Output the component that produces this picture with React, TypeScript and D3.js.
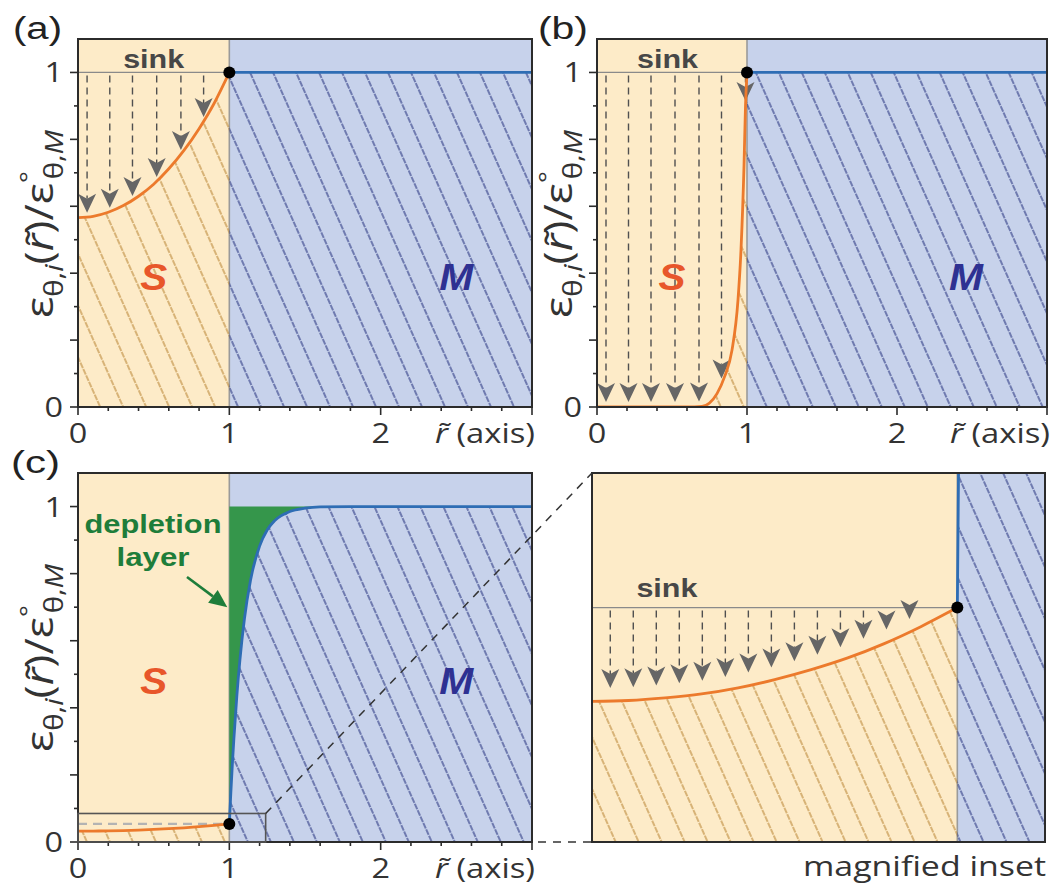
import React from "react";
import * as d3 from "d3";

// ---------------- data ----------------
const xTickLabelValues = [0, 1, 2];
const yTickLabelValues = [0, 1];
const mainXDomain: [number, number] = [0, 3];
const mainYDomain: [number, number] = [0, 1.1];
const insetXDomain: [number, number] = [0, 1.24];
const insetYDomain: [number, number] = [0, 0.085];

// panel (a)
const aSinkR = [0, 0.1, 0.2, 0.3, 0.4, 0.5, 0.6, 0.7, 0.8, 0.9, 1.0];
const aSinkEps = [0.566, 0.57, 0.582, 0.602, 0.63, 0.666, 0.712, 0.767, 0.832, 0.908, 1.0];
const aMatrixR = [1, 3];
const aMatrixEps = [1, 1];
const aArrowR = [0.06, 0.21, 0.36, 0.52, 0.68, 0.83];

// panel (b)
const bSinkR = [0, 0.6, 0.7, 0.75, 0.8, 0.85, 0.9, 0.94, 0.96, 0.98, 0.99, 1.0];
const bSinkEps = [0, 0, 0.002, 0.012, 0.04, 0.09, 0.17, 0.32, 0.47, 0.72, 0.9, 1.0];
const bMatrixR = [1, 3];
const bMatrixEps = [1, 1];
const bArrowR = [0.06, 0.21, 0.36, 0.52, 0.68, 0.83, 0.99];

// panel (c) + magnified inset
const cSinkR = [0, 0.1, 0.2, 0.3, 0.4, 0.5, 0.6, 0.7, 0.8, 0.9, 1.0];
const cSinkEps = [0.0324, 0.0326, 0.0332, 0.0341, 0.0355, 0.0374, 0.0397, 0.0424, 0.0457, 0.0496, 0.054];
const cMatrixR = [1, 1.01, 1.02, 1.03, 1.05, 1.07, 1.1, 1.14, 1.2, 1.25, 1.3, 1.4, 1.5, 1.6, 1.8, 2.0, 3.0];
const cMatrixEps = [0.054, 0.148, 0.232, 0.307, 0.438, 0.543, 0.666, 0.78, 0.882, 0.93, 0.958, 0.985, 0.995, 0.999, 1, 1, 1];
const insetArrowR = [0.05, 0.113, 0.176, 0.239, 0.302, 0.365, 0.428, 0.491, 0.554, 0.617, 0.68, 0.743, 0.806, 0.869];

// ---------------- style ----------------
const FONT = "'Open Sans', 'DejaVu Sans', sans-serif";
const ARIAL = "'Liberation Sans', Arial, sans-serif";
const COL = {
  beige: "#FDEBC8",
  blueBg: "#C7D2EB",
  green: "#35964B",
  greenText: "#1E7D3A",
  orange: "#EC7A2C",
  blue: "#2E6DB4",
  hatchO: "#B98535",
  hatchB: "#27337F",
  gray: "#9A9A9A",
  arrow: "#666666",
  frame: "#2b2b2b",
  text: "#333333",
};

type Box = { l: number; r: number; t: number; b: number };

interface PanelProps {
  id: string;
  box: Box;
  xd: [number, number];
  yd: [number, number];
  sinkR: number[];
  sinkEps: number[];
  matR: number[];
  matEps: number[];
  sinkLevel: number;
  sinkDashed?: boolean;
  arrowR: number[];
  arrowGap: number;
  green?: boolean;
  axes: boolean;
}

function Arrow({ x, y1, tip }: { x: number; y1: number; tip: number }) {
  const h = 19;
  const w = 9;
  const top = tip - h;
  return (
    <g>
      {top - y1 > 2 && (
        <line x1={x} x2={x} y1={y1} y2={top + 5} stroke="#505050" strokeWidth={1.4} strokeDasharray="7 5" />
      )}
      <path d={`M${x},${tip} L${x - w},${top} L${x},${top + 5} L${x + w},${top} Z`} fill={COL.arrow} />
    </g>
  );
}

function Panel(p: PanelProps) {
  const x = d3.scaleLinear().domain(p.xd).range([p.box.l, p.box.r]);
  const y = d3.scaleLinear().domain(p.yd).range([p.box.b, p.box.t]);
  const sinkPts: [number, number][] = p.sinkR.map((r, i) => [r, p.sinkEps[i]]);
  const matPts: [number, number][] = p.matR.map((r, i) => [r, p.matEps[i]]);
  const line = d3
    .line<[number, number]>()
    .x((d) => x(d[0]))
    .y((d) => y(d[1]))
    .curve(d3.curveMonotoneX);
  const below = d3
    .area<[number, number]>()
    .x((d) => x(d[0]))
    .y0(y(0))
    .y1((d) => y(d[1]))
    .curve(d3.curveMonotoneX);
  const greenArea = d3
    .area<[number, number]>()
    .x((d) => x(d[0]))
    .y0(y(1))
    .y1((d) => y(d[1]))
    .curve(d3.curveMonotoneX);
  const interp = d3.scaleLinear().domain(p.sinkR).range(p.sinkEps);
  const clip = `clip-${p.id}`;
  const xTicks = p.axes ? x.ticks(12).filter((v) => v <= p.xd[1] + 1e-9) : [];
  const yTicks = p.axes ? y.ticks(11).filter((v) => v <= 1.0001) : [];
  const xMajor = (v: number) => Math.abs(v * 2 - Math.round(v * 2)) < 1e-6;
  const yMajor = (v: number) => Math.abs(v * 5 - Math.round(v * 5)) < 1e-6;

  return (
    <g>
      <defs>
        <clipPath id={clip}>
          <rect x={p.box.l} y={p.box.t} width={p.box.r - p.box.l} height={p.box.b - p.box.t} />
        </clipPath>
      </defs>
      <g clipPath={`url(#${clip})`}>
        <rect x={x(0)} y={p.box.t} width={x(1) - x(0)} height={p.box.b - p.box.t} fill={COL.beige} />
        <rect x={x(1)} y={p.box.t} width={p.box.r - x(1)} height={p.box.b - p.box.t} fill={COL.blueBg} />
        <line x1={x(1)} x2={x(1)} y1={p.box.t} y2={p.box.b} stroke={COL.gray} strokeWidth={1.6} />
        {p.green && <path d={greenArea(matPts) || ""} fill={COL.green} />}
        <path d={below(sinkPts) || ""} fill="url(#hatchO)" />
        <path d={below(matPts) || ""} fill="url(#hatchB)" />
        <line
          x1={x(0)}
          x2={x(1)}
          y1={y(p.sinkLevel)}
          y2={y(p.sinkLevel)}
          stroke={p.sinkDashed ? "#B3B3B3" : "#8a8a8a"}
          strokeWidth={p.sinkDashed ? 2.2 : 1.3}
          strokeDasharray={p.sinkDashed ? "9 6" : undefined}
        />
        {p.arrowR.map((r, i) => (
          <Arrow key={i} x={x(r)} y1={y(p.sinkLevel) + 3} tip={y(interp(r)) - p.arrowGap} />
        ))}
        <path d={line(sinkPts) || ""} fill="none" stroke={COL.orange} strokeWidth={2.8} />
        <path d={line(matPts) || ""} fill="none" stroke={COL.blue} strokeWidth={2.8} />
        <circle cx={x(1)} cy={y(p.sinkLevel)} r={6} fill="#000" />
      </g>
      <rect
        x={p.box.l}
        y={p.box.t}
        width={p.box.r - p.box.l}
        height={p.box.b - p.box.t}
        fill="none"
        stroke={COL.frame}
        strokeWidth={2}
      />
      {xTicks.map((v, i) => (
        <line
          key={"xt" + i}
          x1={x(v)}
          x2={x(v)}
          y1={p.box.b}
          y2={p.box.b + (xMajor(v) ? 8 : 4)}
          stroke={COL.frame}
          strokeWidth={1.6}
        />
      ))}
      {yTicks.map((v, i) => (
        <line
          key={"yt" + i}
          x1={p.box.l}
          x2={p.box.l - (yMajor(v) ? 8 : 4)}
          y1={y(v)}
          y2={y(v)}
          stroke={COL.frame}
          strokeWidth={1.6}
        />
      ))}
      {p.axes &&
        xTickLabelValues.map((v) => (
          <text
            key={"xl" + v}
            x={x(v)}
            y={p.box.b + 36}
            textAnchor="middle"
            fontFamily={FONT}
            fontSize={27}
            fill={COL.text}
            transform={`translate(${x(v)},0) scale(1.2,1) translate(${-x(v)},0)`}
          >
            {v}
          </text>
        ))}
      {p.axes &&
        yTickLabelValues.map((v) => (
          <text
            key={"yl" + v}
            x={p.box.l - 15}
            y={y(v) + 10}
            textAnchor="end"
            fontFamily={FONT}
            fontSize={27}
            fill={COL.text}
            transform={`translate(${p.box.l - 15},0) scale(1.2,1) translate(${-(p.box.l - 15)},0)`}
          >
            {v}
          </text>
        ))}
      {p.axes && (
        <text
          x={p.box.r + 3}
          y={p.box.b + 36}
          textAnchor="end"
          fontFamily={FONT}
          fontSize={28}
          fill={COL.text}
          textLength={100}
          lengthAdjust="spacingAndGlyphs"
        >
          <tspan fontStyle="italic">r{"\u0303"}</tspan> (axis)
        </text>
      )}
    </g>
  );
}

function YLabel({ cx, cy }: { cx: number; cy: number }) {
  return (
    <text
      transform={`translate(${cx},${cy}) scale(1.2,1) rotate(-90)`}
      textAnchor="middle"
      fontFamily={FONT}
      fontSize={32}
      fill={COL.text}
      textLength={188}
      lengthAdjust="spacingAndGlyphs"
    >
      ε
      <tspan fontSize={21} dy={8}>
        θ,<tspan fontStyle="italic">i</tspan>
      </tspan>
      <tspan dy={-8}>(</tspan>
      <tspan fontStyle="italic">r{"\u0303"}</tspan>
      <tspan>)/ε</tspan>
      <tspan fontSize={20} dy={-13}>
        °
      </tspan>
      <tspan fontSize={21} dx={-6} dy={21}>
        θ,<tspan fontStyle="italic">M</tspan>
      </tspan>
    </text>
  );
}

function Label({
  x,
  y,
  w,
  size,
  children,
  fill = COL.text,
  weight = 400,
  italic = false,
  family = FONT,
  anchor = "middle",
}: any) {
  return (
    <text
      x={x}
      y={y}
      textAnchor={anchor}
      fontFamily={family}
      fontSize={size}
      fontWeight={weight}
      fontStyle={italic ? "italic" : "normal"}
      fill={fill}
      textLength={w}
      lengthAdjust={w ? "spacingAndGlyphs" : undefined}
    >
      {children}
    </text>
  );
}

export default function App() {
  const boxA: Box = { l: 78, r: 532, t: 39, b: 407 };
  const boxB: Box = { l: 597, r: 1047, t: 39, b: 407 };
  const boxC: Box = { l: 78, r: 532, t: 473, b: 842 };
  const boxI: Box = { l: 592, r: 1045, t: 473, b: 842 };

  const xa = d3.scaleLinear().domain(mainXDomain).range([boxA.l, boxA.r]);
  const ya = d3.scaleLinear().domain(mainYDomain).range([boxA.b, boxA.t]);
  const xb = d3.scaleLinear().domain(mainXDomain).range([boxB.l, boxB.r]);
  const xc = d3.scaleLinear().domain(mainXDomain).range([boxC.l, boxC.r]);
  const yc = d3.scaleLinear().domain(mainYDomain).range([boxC.b, boxC.t]);
  const xi = d3.scaleLinear().domain(insetXDomain).range([boxI.l, boxI.r]);
  const dotLevel = cSinkEps[cSinkEps.length - 1];

  // green arrow geometry
  const gx2 = xc(1) - 2;
  const gy2 = yc(0.7);
  const gx1 = 187;
  const gy1 = 577;
  const ang = Math.atan2(gy2 - gy1, gx2 - gx1);
  const hl = 18;
  const hw = 8;
  const bx = gx2 - hl * Math.cos(ang);
  const by = gy2 - hl * Math.sin(ang);
  const px = -Math.sin(ang) * hw;
  const py = Math.cos(ang) * hw;

  return (
    <svg
      width={1050}
      height={886}
      style={{ position: "absolute", left: 0, top: 0, background: "#fff" }}
    >
      <defs>
        <pattern
          id="hatchO"
          patternUnits="userSpaceOnUse"
          width={21}
          height={42}
          patternTransform="rotate(-24)"
        >
          <line x1={10} x2={10} y1={0} y2={42} stroke={COL.hatchO} strokeWidth={1.1} strokeDasharray="6 1" />
        </pattern>
        <pattern
          id="hatchB"
          patternUnits="userSpaceOnUse"
          width={21}
          height={42}
          patternTransform="rotate(-24)"
        >
          <line x1={10} x2={10} y1={0} y2={42} stroke={COL.hatchB} strokeWidth={1.1} strokeDasharray="6 1" />
        </pattern>
      </defs>

      <Panel
        id="a"
        box={boxA}
        xd={mainXDomain}
        yd={mainYDomain}
        sinkR={aSinkR}
        sinkEps={aSinkEps}
        matR={aMatrixR}
        matEps={aMatrixEps}
        sinkLevel={1}
        arrowR={aArrowR}
        arrowGap={4}
        axes
      />
      <Panel
        id="b"
        box={boxB}
        xd={mainXDomain}
        yd={mainYDomain}
        sinkR={bSinkR}
        sinkEps={bSinkEps}
        matR={bMatrixR}
        matEps={bMatrixEps}
        sinkLevel={1}
        arrowR={bArrowR}
        arrowGap={5}
        axes
      />
      <Panel
        id="c"
        box={boxC}
        xd={mainXDomain}
        yd={mainYDomain}
        sinkR={cSinkR}
        sinkEps={cSinkEps}
        matR={cMatrixR}
        matEps={cMatrixEps}
        sinkLevel={dotLevel}
        sinkDashed
        arrowR={[]}
        arrowGap={0}
        green
        axes
      />
      <Panel
        id="i"
        box={boxI}
        xd={insetXDomain}
        yd={insetYDomain}
        sinkR={cSinkR}
        sinkEps={cSinkEps}
        matR={cMatrixR}
        matEps={cMatrixEps}
        sinkLevel={dotLevel}
        arrowR={insetArrowR}
        arrowGap={13}
        axes={false}
      />

      {/* zoom rectangle + connectors */}
      <rect
        x={xc(0)}
        y={yc(insetYDomain[1])}
        width={xc(insetXDomain[1]) - xc(0)}
        height={yc(0) - yc(insetYDomain[1])}
        fill="none"
        stroke="#555"
        strokeWidth={1.6}
      />
      <line
        x1={xc(insetXDomain[1])}
        y1={yc(insetYDomain[1])}
        x2={boxI.l}
        y2={boxI.t}
        stroke="#333"
        strokeWidth={1.5}
        strokeDasharray="8 7"
      />
      <line x1={boxC.r + 6} y1={boxC.b} x2={boxI.l} y2={boxI.b} stroke="#333" strokeWidth={1.5} strokeDasharray="8 7" />

      {/* green arrow + depletion label */}
      <line x1={gx1} y1={gy1} x2={bx} y2={by} stroke={COL.greenText} strokeWidth={2.6} />
      <path d={`M${gx2},${gy2} L${bx + px},${by + py} L${bx - px},${by - py} Z`} fill={COL.greenText} />
      <Label x={153} y={533} w={137} size={26} weight={700} fill={COL.greenText} family={ARIAL}>
        depletion
      </Label>
      <Label x={153} y={566} w={73} size={26} weight={700} fill={COL.greenText} family={ARIAL}>
        layer
      </Label>

      {/* sink labels */}
      <Label x={xa(0.5)} y={68} w={61} size={26} weight={700} fill="#474747" family={ARIAL}>
        sink
      </Label>
      <Label x={xb(0.47)} y={68} w={61} size={26} weight={700} fill="#474747" family={ARIAL}>
        sink
      </Label>
      <Label x={xi(0.205)} y={597} w={61} size={26} weight={700} fill="#474747" family={ARIAL}>
        sink
      </Label>

      {/* S / M labels */}
      <Label x={xa(0.5)} y={ya(0.39) + 13} w={27} size={37} weight={700} italic fill="#E8562A" family={ARIAL}>
        S
      </Label>
      <Label x={xa(2.5)} y={ya(0.39) + 13} w={34} size={37} weight={700} italic fill="#2E3192" family={ARIAL}>
        M
      </Label>
      <Label x={xb(0.5)} y={ya(0.39) + 13} w={27} size={37} weight={700} italic fill="#E8562A" family={ARIAL}>
        S
      </Label>
      <Label x={xb(2.46)} y={ya(0.39) + 13} w={34} size={37} weight={700} italic fill="#2E3192" family={ARIAL}>
        M
      </Label>
      <Label x={xc(0.5)} y={yc(0.48) + 13} w={27} size={37} weight={700} italic fill="#E8562A" family={ARIAL}>
        S
      </Label>
      <Label x={xc(2.5)} y={yc(0.48) + 13} w={34} size={37} weight={700} italic fill="#2E3192" family={ARIAL}>
        M
      </Label>

      {/* panel letters */}
      <Label x={13} y={39} w={49} size={31} anchor="start" family={ARIAL} fill="#222">
        (a)
      </Label>
      <Label x={538} y={39} w={50} size={31} anchor="start" family={ARIAL} fill="#222">
        (b)
      </Label>
      <Label x={11} y={473} w={49} size={31} anchor="start" family={ARIAL} fill="#222">
        (c)
      </Label>

      {/* y-axis labels */}
      <YLabel cx={53} cy={224} />
      <YLabel cx={572} cy={224} />
      <YLabel cx={53} cy={658} />

      <Label x={1046} y={876} w={243} size={27} anchor="end" fill="#333">
        magnified inset
      </Label>
    </svg>
  );
}
